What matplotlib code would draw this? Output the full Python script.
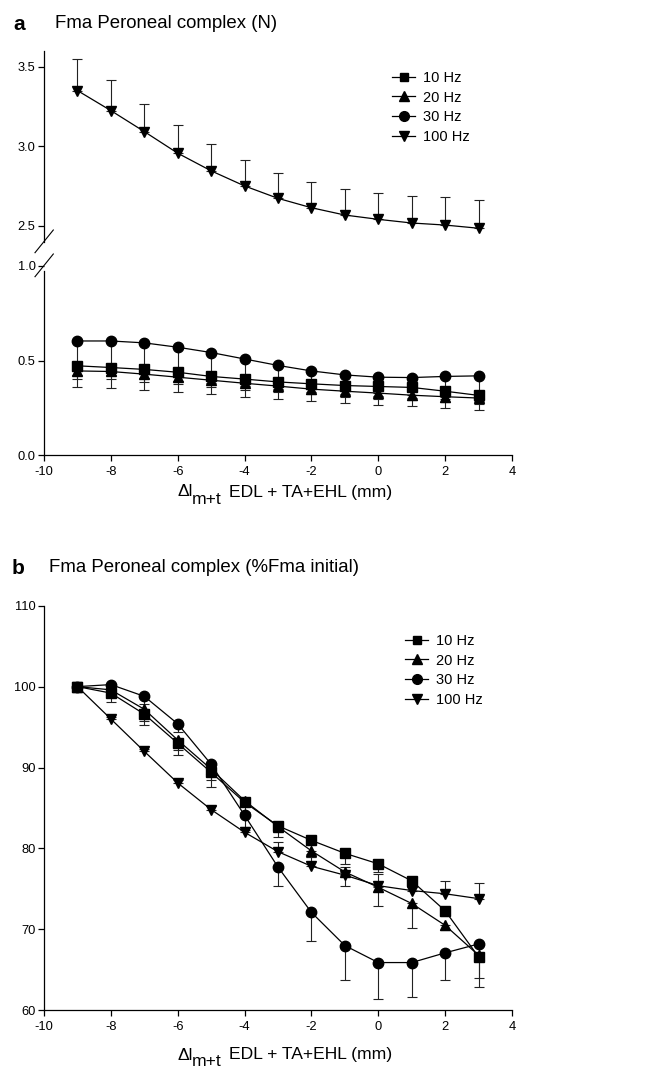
import matplotlib
matplotlib.use("Agg")
import matplotlib.pyplot as plt
from matplotlib.lines import Line2D

plt.rcParams['font.family'] = ['Liberation Sans', 'DejaVu Sans']
plt.rcParams['axes.unicode_minus'] = False

# ---------------- data ----------------
x = [-9, -8, -7, -6, -5, -4, -3, -2, -1, 0, 1, 2, 3]
labels = ['10 Hz', '20 Hz', '30 Hz', '100 Hz']

# panel a (N)
a_10 = [0.472, 0.463, 0.453, 0.438, 0.416, 0.402, 0.387, 0.377, 0.368, 0.363, 0.358, 0.338, 0.316]
a_10_err = [0.114, 0.106, 0.109, 0.103, 0.095, 0.093, 0.091, 0.093, 0.093, 0.097, 0.098, 0.088, 0.078]
a_20 = [0.445, 0.442, 0.428, 0.412, 0.396, 0.380, 0.365, 0.349, 0.338, 0.328, 0.317, 0.309, 0.302]
a_20_err = [0.020, 0.020, 0.018, 0.018, 0.017, 0.017, 0.016, 0.016, 0.015, 0.015, 0.015, 0.014, 0.014]
a_30 = [0.603, 0.603, 0.593, 0.570, 0.542, 0.508, 0.474, 0.445, 0.424, 0.412, 0.410, 0.416, 0.419]
a_30_err = [0.203, 0.203, 0.207, 0.195, 0.181, 0.163, 0.141, 0.124, 0.116, 0.114, 0.120, 0.134, 0.149]
a_100 = [3.350, 3.224, 3.092, 2.956, 2.845, 2.750, 2.672, 2.613, 2.567, 2.540, 2.517, 2.504, 2.484]
a_100_err = [0.197, 0.194, 0.176, 0.178, 0.169, 0.164, 0.162, 0.162, 0.166, 0.165, 0.171, 0.174, 0.179]

# panel b (% initial)
b_10 = [100, 99.2, 96.6, 93.0, 89.4, 85.7, 82.8, 81.0, 79.4, 78.1, 76.0, 72.3, 66.6]
b_10_err = [0, 1.1, 1.4, 1.5, 1.8, 1.2, 1.4, 1.7, 1.3, 1.0, 0.8, 0.6, 2.6]
b_20 = [100, 99.6, 97.2, 93.4, 89.8, 85.9, 82.7, 79.7, 77.1, 75.2, 73.2, 70.5, 66.8]
b_20_err = [0, 0.9, 1.4, 1.2, 0.5, 0.5, 0.6, 0.8, 1.7, 2.3, 3.0, 0.6, 0.5]
b_30 = [100, 100.25, 98.8, 95.4, 90.4, 84.1, 77.7, 72.1, 68.0, 65.9, 65.9, 67.1, 68.2]
b_30_err = [0, 0.3, 0.9, 1.0, 1.9, 1.8, 2.4, 3.5, 4.2, 4.45, 4.2, 3.3, 5.3]
b_100 = [100, 96.0, 92.0, 88.1, 84.8, 82.0, 79.6, 77.8, 76.7, 75.4, 74.8, 74.4, 73.8]
b_100_err = [0, 0.3, 0.3, 0.3, 0.4, 0.7, 1.2, 1.1, 1.0, 1.4, 1.5, 1.6, 1.9]

xticks = [-10, -8, -6, -4, -2, 0, 2, 4]
a_up_ticks = [2.5, 3.0, 3.5]
a_lo_ticks = [0.0, 0.5, 1.0]
b_ticks = [60, 70, 80, 90, 100, 110]

# ---------------- style ----------------
W_PX, H_PX = 646, 1073
fig = plt.figure(figsize=(W_PX / 100, H_PX / 100), dpi=100)

def fx(px):
    return px / W_PX

def fy(py):
    return 1 - py / H_PX

def axes_px(left, top, right, bottom):
    return fig.add_axes([fx(left), fy(bottom), fx(right) - fx(left), fy(top) - fy(bottom)])

markers = ['s', '^', 'o', 'v']
msizes = [6.5, 7.5, 7.5, 7.5]
LW = 0.9
TICKFS = 9.3
ebkw = dict(ecolor='#222222', elinewidth=0.8, capsize=3.6, capthick=0.8)

def style(ax, bottom=True):
    for s in ['top', 'right']:
        ax.spines[s].set_visible(False)
    ax.spines['left'].set_linewidth(0.9)
    ax.spines['bottom'].set_linewidth(0.9)
    if not bottom:
        ax.spines['bottom'].set_visible(False)
        ax.tick_params(axis='x', bottom=False, labelbottom=False)
    ax.tick_params(direction='out', length=4, width=0.9, labelsize=TICKFS, pad=2)
    ax.tick_params(axis='x', pad=4)
    ax.set_xlim(-10, 4)
    ax.set_xticks(xticks)

def series(ax, y, err, k, upper=False):
    yerr = [[0] * len(err), err] if upper else [err, [0] * len(err)]
    ax.errorbar(x, y, yerr=yerr, fmt='none', zorder=2, **ebkw)
    ax.plot(x, y, '-', color='black', lw=LW, marker=markers[k], ms=msizes[k],
            mfc='black', mec='black', zorder=3)

def legend(ax, left_px, top_px):
    handles = [Line2D([], [], color='black', lw=LW, marker=markers[k], ms=msizes[k] - 0.5)
               for k in range(4)]
    ax.legend(handles, labels, loc='upper left', bbox_to_anchor=(fx(left_px), fy(top_px)),
              bbox_transform=fig.transFigure, frameon=False, fontsize=10.5,
              handlelength=1.6, handletextpad=0.5, labelspacing=0.38,
              borderpad=0, borderaxespad=0, numpoints=1)

def xlabel(base_px_x, y_px):
    fs = 12.6
    fig.text(fx(base_px_x), fy(y_px), 'Δl', fontsize=fs, ha='left', va='center')
    fig.text(fx(base_px_x + 15), fy(y_px + 7), 'm+t', fontsize=fs, ha='left', va='center')
    fig.text(fx(base_px_x + 52), fy(y_px), 'EDL + TA+EHL (mm)', fontsize=fs, ha='left', va='center')

# ---------------- panel a ----------------
ax_up = axes_px(44, 50.8, 512, 241.6)
ax_lo = axes_px(44, 265.7, 512, 455.3)

style(ax_up, bottom=False)
ax_up.set_ylim(2.4, 3.6)
ax_up.set_yticks(a_up_ticks)
ax_up.set_yticklabels(['2.5', '3.0', '3.5'])
series(ax_up, a_100, a_100_err, 3, upper=True)

style(ax_lo)
ax_lo.set_ylim(0, 1.0)
ax_lo.set_yticks(a_lo_ticks)
ax_lo.set_yticklabels(['0.0', '0.5', '1.0'])
series(ax_lo, a_10, a_10_err, 0)
series(ax_lo, a_20, a_20_err, 1)
series(ax_lo, a_30, a_30_err, 2)
ax_lo.spines['left'].set_bounds(0, 0.97)

legend(ax_up, 392, 71)

# axis-break slashes
for (x0, y0, x1, y1) in [(35, 252.7, 53.3, 230), (35, 276.7, 53.3, 254)]:
    fig.add_artist(Line2D([fx(x0), fx(x1)], [fy(y0), fy(y1)], color='black', lw=0.8,
                          transform=fig.transFigure))

fig.text(fx(13), fy(24), 'a', fontsize=15, fontweight='bold', ha='left', va='center')
fig.text(fx(55), fy(24), 'Fma Peroneal complex (N)', fontsize=13.4, ha='left', va='center')
xlabel(177, 492)

# ---------------- panel b ----------------
ax_b = axes_px(44, 605.7, 512, 1010.3)
style(ax_b)
ax_b.set_ylim(60, 110)
ax_b.set_yticks(b_ticks)
series(ax_b, b_10, b_10_err, 0)
series(ax_b, b_20, b_20_err, 1)
series(ax_b, b_30, b_30_err, 2)
series(ax_b, b_100, b_100_err, 3, upper=True)
legend(ax_b, 405, 634)

fig.text(fx(12), fy(568), 'b', fontsize=15, fontweight='bold', ha='left', va='center')
fig.text(fx(49), fy(568), 'Fma Peroneal complex (%Fma initial)', fontsize=13.4, ha='left', va='center')
xlabel(177, 1055)

fig.savefig('out.png', dpi=100)
